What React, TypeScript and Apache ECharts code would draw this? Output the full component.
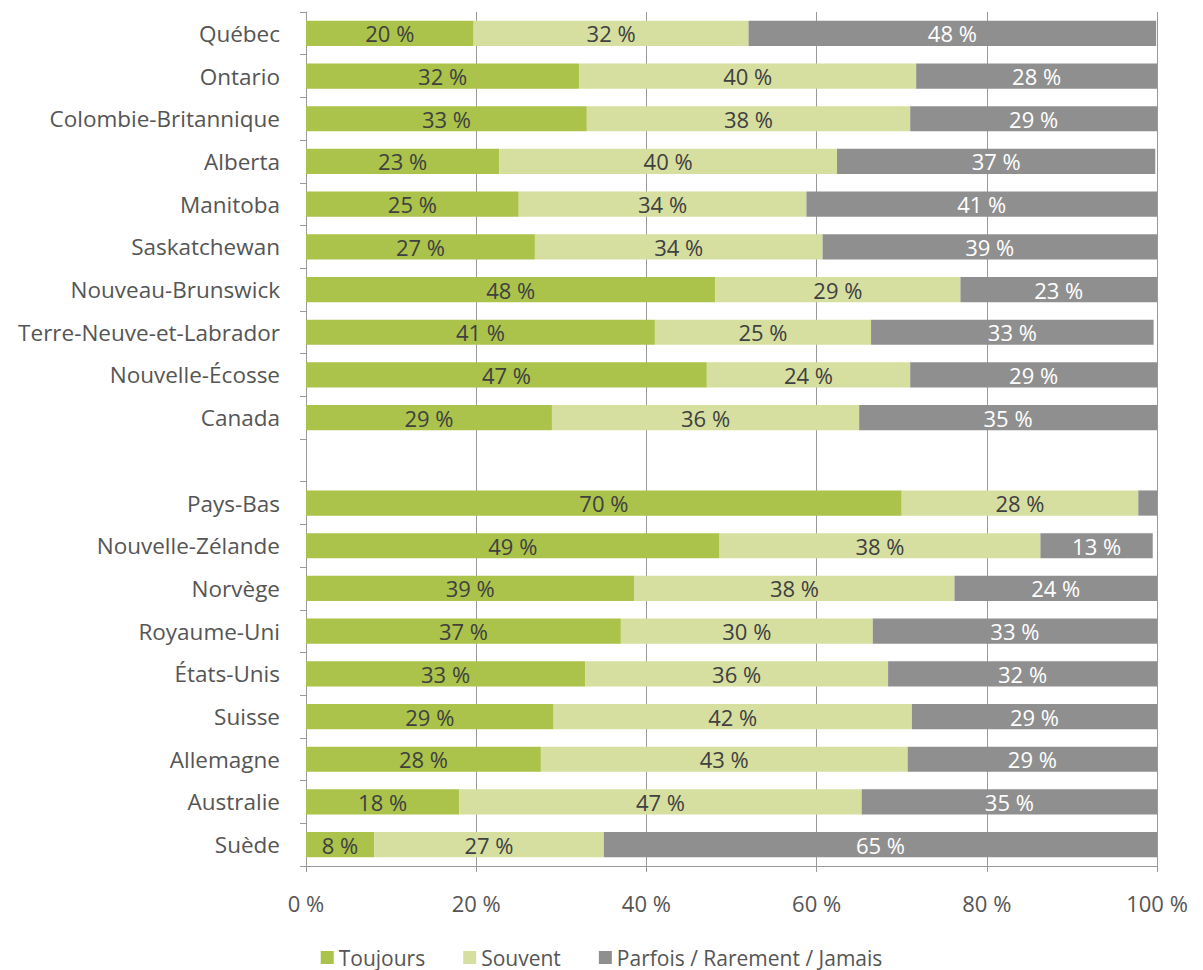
import React, { useEffect, useRef } from "react";
import * as echarts from "echarts";

const categories = [
  "Québec", "Ontario", "Colombie-Britannique", "Alberta", "Manitoba", "Saskatchewan",
  "Nouveau-Brunswick", "Terre-Neuve-et-Labrador", "Nouvelle-Écosse", "Canada", "",
  "Pays-Bas", "Nouvelle-Zélande", "Norvège", "Royaume-Uni", "États-Unis", "Suisse",
  "Allemagne", "Australie", "Suède",
];
const toujours = [19.7, 32.1, 33.0, 22.7, 25.0, 26.9, 48.1, 41.0, 47.1, 28.9, null,
  70.0, 48.6, 38.6, 37.0, 32.8, 29.1, 27.6, 18.0, 8.0];
const souvent = [32.3, 39.6, 38.0, 39.7, 33.8, 33.8, 28.8, 25.4, 23.9, 36.1, null,
  27.8, 37.7, 37.6, 29.6, 35.6, 42.1, 43.1, 47.3, 27.0];
const parfois = [47.9, 28.3, 29.0, 37.4, 41.2, 39.3, 23.1, 33.2, 29.0, 35.0, null,
  2.2, 13.2, 23.8, 33.4, 31.6, 28.8, 29.3, 34.7, 65.0];
const seriesNames = ["Toujours", "Souvent", "Parfois / Rarement / Jamais"];
const xTicks = { min: 0, max: 100, interval: 20 };

const FONT = "Open Sans";

export default function App() {
  const ref = useRef<HTMLDivElement>(null);
  useEffect(() => {
    if (!ref.current) return;
    const chart = echarts.init(ref.current, null, { renderer: "svg" });
    const mkLabel = (color: string) => ({
      show: true,
      position: "inside",
      color,
      fontFamily: FONT,
      fontSize: 22,
      formatter: (p: any) => (p.value == null || p.value < 5 ? "" : Math.round(p.value) + " %"),
    });
    const colors = ["#abc34a", "#d6dfa0", "#8f8f8f"];
    const datasets = [toujours, souvent, parfois];
    chart.setOption({
      animation: false,
      textStyle: { fontFamily: FONT },
      grid: { left: 306, right: 46, top: 12, bottom: 104, containLabel: false },
      legend: {
        bottom: -3,
        left: "center",
        icon: "rect",
        itemWidth: 13,
        itemHeight: 13,
        itemGap: 38,
        itemTextGap: 6,
        textStyle: { fontFamily: FONT, fontSize: 21, color: "#555" },
        data: seriesNames,
      },
      xAxis: {
        type: "value",
        min: xTicks.min,
        max: xTicks.max,
        interval: xTicks.interval,
        axisLine: { show: true, lineStyle: { color: "#999" } },
        axisTick: { show: true, length: 6, lineStyle: { color: "#999" } },
        axisLabel: { formatter: "{value} %", fontFamily: FONT, fontSize: 22, color: "#555", margin: 26 },
        splitLine: { show: true, lineStyle: { color: "#999", width: 1 } },
      },
      yAxis: {
        type: "category",
        inverse: true,
        data: categories,
        axisLine: { show: true, lineStyle: { color: "#999" } },
        axisTick: { show: true, length: 6, lineStyle: { color: "#999" } },
        axisLabel: { fontFamily: FONT, fontSize: 22.5, color: "#555", margin: 26 },
      },
      series: datasets.map((d, i) => ({
        name: seriesNames[i],
        type: "bar",
        stack: "total",
        barWidth: "59%",
        data: d,
        itemStyle: { color: colors[i] },
        label: mkLabel(i === 2 ? "#ffffff" : "#404040"),
      })),
    });
    return () => chart.dispose();
  }, []);
  return (
    <div
      ref={ref}
      style={{ position: "fixed", left: 0, top: 0, width: 1203, height: 970, background: "#fff" }}
    />
  );
}
